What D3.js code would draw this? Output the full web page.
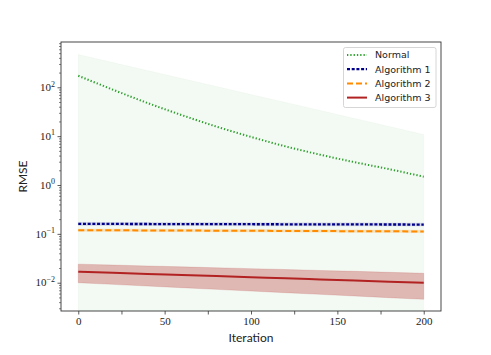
<!DOCTYPE html>
<html><head><meta charset="utf-8">
<script src="https://cdn.jsdelivr.net/npm/d3@7"></script>
<style>body{margin:0;background:#fff}svg{display:block}</style>
</head><body>
<script>
const iterations = [0, 20, 40, 60, 80, 100, 120, 140, 160, 180, 200];
const normalMean  = [172, 89.5, 47.8, 26.9, 15.7, 9.65, 6.17, 4.17, 2.93, 2.11, 1.48];
const normalUpper = [468, 321, 220, 151, 104, 71, 49, 33.6, 23, 15.8, 10.8];
const normalLower = [1e-4, 1e-4, 1e-4, 1e-4, 1e-4, 1e-4, 1e-4, 1e-4, 1e-4, 1e-4, 1e-4];
const alg1Mean  = [0.160, 0.1595, 0.159, 0.1585, 0.158, 0.1575, 0.157, 0.1565, 0.156, 0.1555, 0.155];
const alg1Upper = [0.172, 0.1715, 0.171, 0.1705, 0.170, 0.1695, 0.169, 0.1685, 0.168, 0.1675, 0.167];
const alg1Lower = [0.149, 0.1485, 0.148, 0.1475, 0.147, 0.1465, 0.146, 0.1455, 0.145, 0.1445, 0.144];
const alg2Mean  = [0.119, 0.1183, 0.1176, 0.1169, 0.1162, 0.1155, 0.1148, 0.1141, 0.1134, 0.1127, 0.112];
const alg2Upper = [0.126, 0.1253, 0.1246, 0.1239, 0.1232, 0.1225, 0.1218, 0.1211, 0.1204, 0.1197, 0.119];
const alg2Lower = [0.113, 0.1123, 0.1116, 0.1109, 0.1102, 0.1095, 0.1088, 0.1081, 0.1074, 0.1067, 0.106];
const alg3Mean  = [0.0168, 0.0159, 0.0151, 0.0144, 0.0137, 0.0130, 0.0123, 0.0117, 0.0111, 0.0105, 0.0100];
const alg3Upper = [0.0240, 0.0230, 0.0220, 0.0211, 0.0202, 0.0194, 0.0186, 0.0178, 0.0171, 0.0163, 0.0156];
const alg3Lower = [0.0100, 0.00925, 0.00855, 0.00791, 0.00731, 0.00676, 0.00625, 0.00578, 0.00535, 0.00494, 0.00457];
const seriesNames = ["Normal", "Algorithm 1", "Algorithm 2", "Algorithm 3"];
const xTicks = [0, 25, 50, 75, 100, 125, 150, 175, 200];
const xTickLabels = ["0", "", "50", "", "100", "", "150", "", "200"];
const yDecades = [-2, -1, 0, 1, 2];

const W = 491, H = 355;
const L = 61, R = 441, T = 42, B = 311;
const svg = d3.select("body").append("svg").attr("width", W).attr("height", H);

const x = d3.scaleLinear().domain([-10, 210]).range([L, R]);
const y = d3.scaleLog().domain([Math.pow(10, -2.579), Math.pow(10, 2.927)]).range([B, T]);

const series = [
  {name: seriesNames[0], mean: normalMean, up: normalUpper, lo: normalLower, color: "#2ca02c", fill: "#2ca02c", fo: 0.06, dash: "1.3,2", w: 2},
  {name: seriesNames[1], mean: alg1Mean, up: alg1Upper, lo: alg1Lower, color: "#00008b", fill: "#00008b", fo: 0.12, dash: "3,1.7", w: 2.3},
  {name: seriesNames[2], mean: alg2Mean, up: alg2Upper, lo: alg2Lower, color: "#ff8c00", fill: "#ff8c00", fo: 0.2, dash: "6,3", w: 2},
  {name: seriesNames[3], mean: alg3Mean, up: alg3Upper, lo: alg3Lower, color: "#b22222", fill: "#b22222", fo: 0.3, dash: null, w: 2}
];

svg.append("defs").append("clipPath").attr("id", "clip")
  .append("rect").attr("x", L).attr("y", T).attr("width", R - L).attr("height", B - T);
const plot = svg.append("g").attr("clip-path", "url(#clip)");

series.forEach(s => {
  const area = d3.area().x((d, i) => x(iterations[i])).y0((d, i) => y(s.lo[i])).y1((d, i) => y(s.up[i]));
  plot.append("path").datum(s.mean).attr("d", area).attr("fill", s.fill).attr("fill-opacity", s.fo)
    .attr("stroke", s.fill).attr("stroke-opacity", s.fo * 0.6).attr("stroke-width", 0.8);
});
series.forEach(s => {
  const line = d3.line().x((d, i) => x(iterations[i])).y(d => y(d)).curve(d3.curveMonotoneX);
  plot.append("path").datum(s.mean).attr("d", line).attr("fill", "none").attr("stroke", s.color)
    .attr("stroke-width", s.w).attr("stroke-dasharray", s.dash);
});

// frame
svg.append("rect").attr("x", L).attr("y", T).attr("width", R - L).attr("height", B - T)
  .attr("fill", "none").attr("stroke", "#333").attr("stroke-width", 0.9);

// x axis
const xAxis = d3.axisBottom(x).tickValues(xTicks).tickSize(3.5).tickPadding(3)
  .tickFormat((d, i) => xTickLabels[i]);
const gx = svg.append("g").attr("transform", `translate(0,${B})`).call(xAxis);
gx.select(".domain").remove();
gx.selectAll(".tick line").attr("stroke", "#333").attr("stroke-width", 0.8);
gx.selectAll(".tick text").attr("font-family", "Liberation Serif, serif").attr("font-size", 11).attr("fill", "#222");

// y axis: major and minor ticks
const minorVals = [];
for (let k = -3; k <= 2; k++) for (let m = 2; m <= 9; m++) {
  const v = m * Math.pow(10, k);
  if (v >= y.domain()[0] && v <= y.domain()[1]) minorVals.push(v);
}
const gyMinor = svg.append("g").attr("transform", `translate(${L},0)`)
  .call(d3.axisLeft(y).tickValues(minorVals).tickSize(2).tickFormat(""));
gyMinor.select(".domain").remove();
gyMinor.selectAll(".tick line").attr("stroke", "#333").attr("stroke-width", 0.6);

const gy = svg.append("g").attr("transform", `translate(${L},0)`)
  .call(d3.axisLeft(y).tickValues(yDecades.map(e => Math.pow(10, e))).tickSize(3.5).tickFormat(""));
gy.select(".domain").remove();
gy.selectAll(".tick line").attr("stroke", "#333").attr("stroke-width", 0.8);
gy.selectAll(".tick").each(function(d, i) {
  const e = yDecades[i];
  const t = d3.select(this).append("text").attr("x", -6).attr("dy", "0.32em")
    .attr("text-anchor", "end").attr("font-family", "Liberation Serif, serif").attr("fill", "#222");
  t.append("tspan").attr("font-size", 11).text("10");
  t.append("tspan").attr("font-size", 8).attr("dy", "-0.55em").text(e < 0 ? "\u2212" + (-e) : String(e));
});

// axis labels
svg.append("text").attr("x", (L + R) / 2).attr("y", 342).attr("text-anchor", "middle")
  .attr("font-family", "Lato, sans-serif").attr("font-size", 12).attr("fill", "#222").text("Iteration");
svg.append("text").attr("transform", `translate(27,${(T + B) / 2}) rotate(-90)`).attr("text-anchor", "middle")
  .attr("font-family", "Lato, sans-serif").attr("font-size", 12).attr("fill", "#222").text("RMSE");

// legend
const lg = svg.append("g");
lg.append("rect").attr("x", 343.5).attr("y", 47.5).attr("width", 92.5).attr("height", 60)
  .attr("rx", 2).attr("fill", "#fff").attr("fill-opacity", 0.85).attr("stroke", "#ccc").attr("stroke-width", 0.8);
series.forEach((s, i) => {
  const yy = 55 + i * 14.2;
  lg.append("line").attr("x1", 347).attr("x2", 367).attr("y1", yy).attr("y2", yy)
    .attr("stroke", s.color).attr("stroke-width", s.w).attr("stroke-dasharray", s.dash);
  lg.append("text").attr("x", 375).attr("y", yy).attr("dy", "0.35em").attr("font-family", "DejaVu Sans, sans-serif")
    .attr("font-size", 9.5).attr("fill", "#222").text(s.name);
});
</script>
</body></html>
